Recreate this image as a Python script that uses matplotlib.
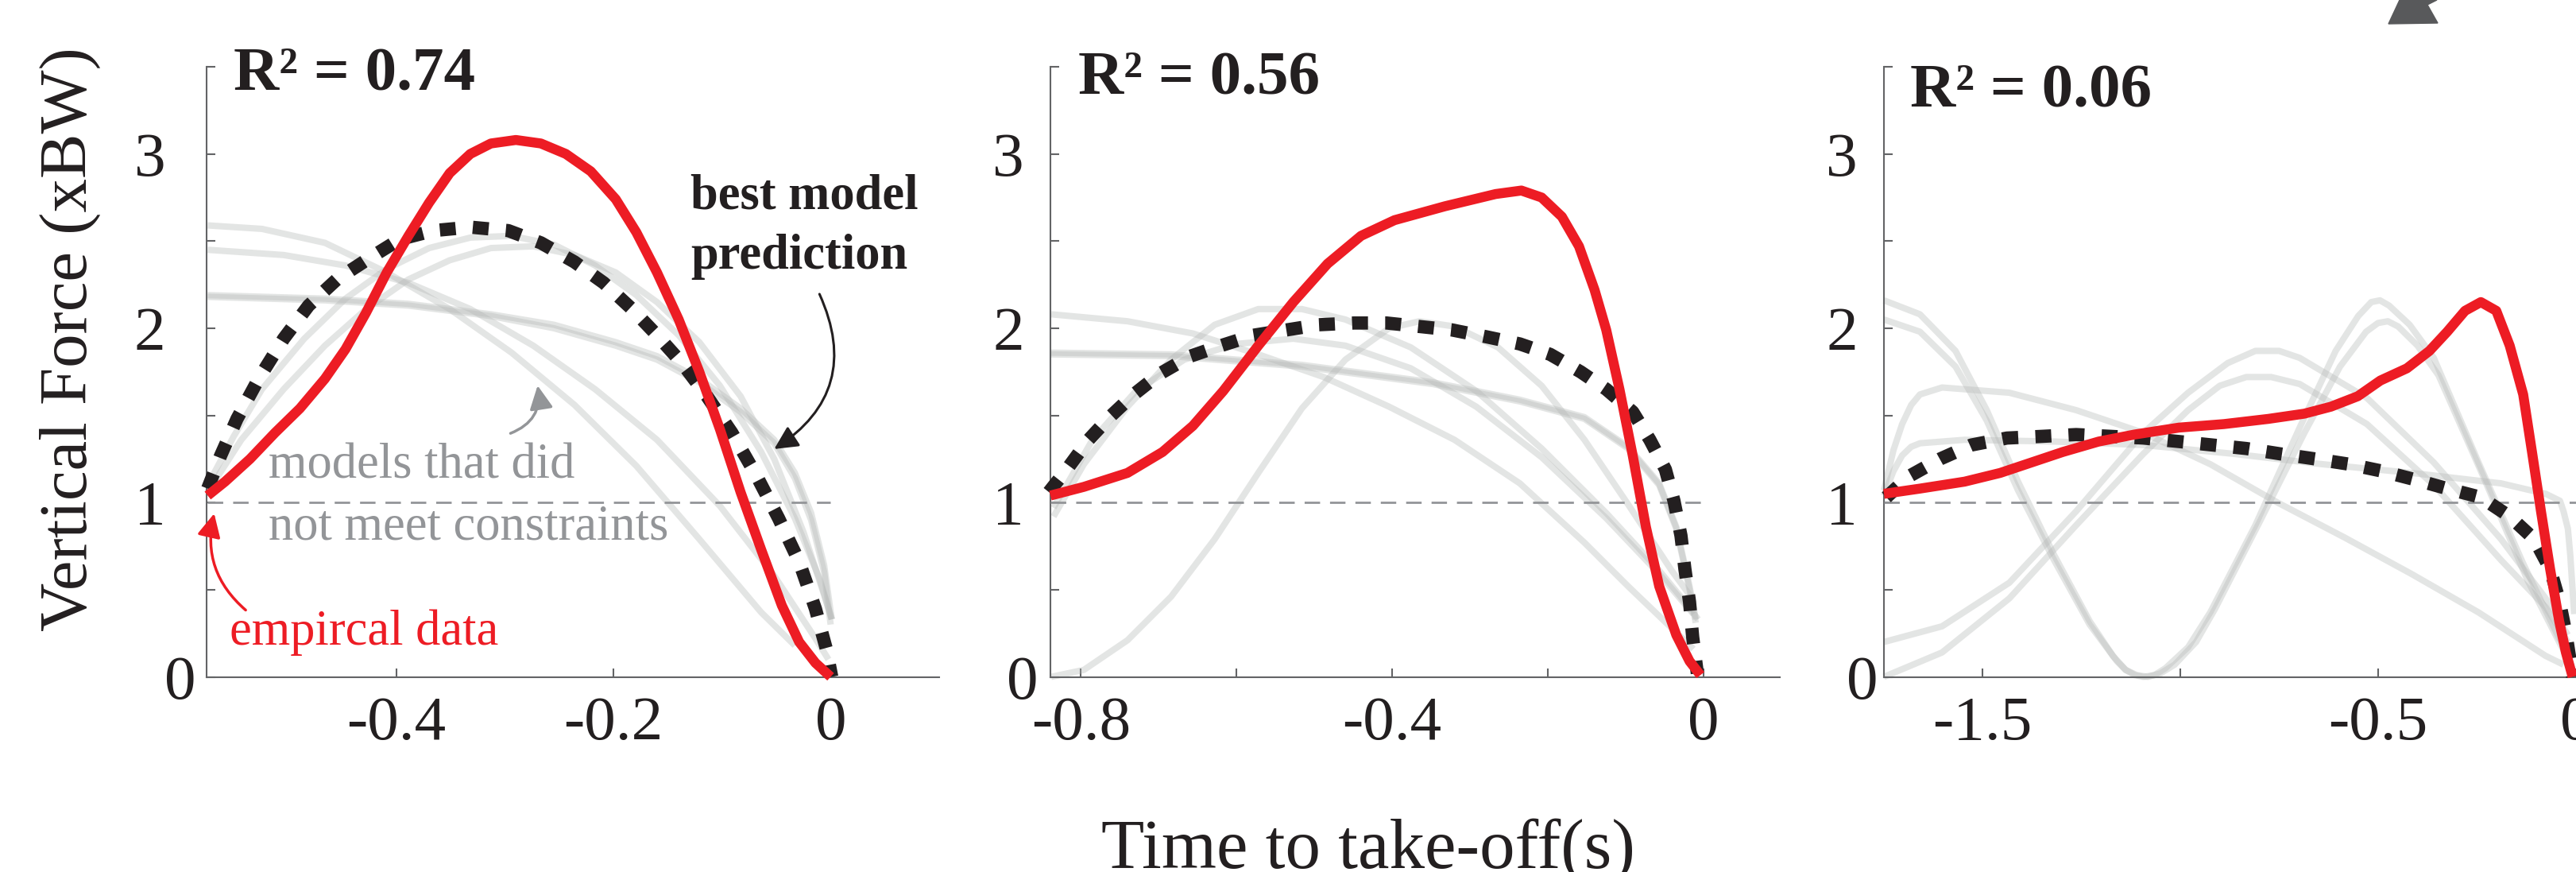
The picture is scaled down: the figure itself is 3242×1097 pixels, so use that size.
import matplotlib
matplotlib.use("Agg")
import matplotlib.pyplot as plt
from matplotlib.patches import Polygon
from matplotlib.transforms import ScaledTranslation

plt.rcParams['font.family'] = ['Liberation Serif', 'DejaVu Serif']

RED = '#ed1c24'
DARK = '#231f20'
GRAY_TXT = '#939598'
AXIS_C = '#636466'

# ---------------- panel 1 ----------------
p1_red_t = [-0.574, -0.558, -0.535, -0.512, -0.489, -0.466, -0.447, -0.428, -0.409, -0.389,
            -0.370, -0.351, -0.332, -0.313, -0.290, -0.267, -0.244, -0.221, -0.198, -0.179,
            -0.160, -0.140, -0.121, -0.102, -0.083, -0.064, -0.045, -0.029, -0.014, 0.0]
p1_red_f = [1.04, 1.12, 1.25, 1.40, 1.54, 1.71, 1.88, 2.09, 2.32, 2.53,
            2.72, 2.89, 3.00, 3.06, 3.08, 3.06, 3.00, 2.90, 2.74, 2.55,
            2.32, 2.05, 1.75, 1.42, 1.06, 0.73, 0.41, 0.20, 0.08, 0.0]
p1_best_t = [-0.574, -0.562, -0.547, -0.527, -0.504, -0.481, -0.455, -0.428, -0.397, -0.366,
             -0.332, -0.297, -0.267, -0.236, -0.209, -0.183, -0.160, -0.137, -0.114, -0.091,
             -0.068, -0.048, -0.029, -0.014, -0.004, 0.001]
p1_best_f = [1.08, 1.27, 1.48, 1.71, 1.94, 2.13, 2.28, 2.39, 2.51, 2.56,
             2.58, 2.56, 2.49, 2.38, 2.26, 2.11, 1.96, 1.80, 1.61, 1.40,
             1.15, 0.91, 0.66, 0.39, 0.16, 0.0]
p1_gray = [
    ([-0.574, -0.524, -0.466, -0.409, -0.351, -0.294, -0.236, -0.179, -0.121, -0.064, -0.033],
     [2.59, 2.57, 2.49, 2.32, 2.11, 1.86, 1.56, 1.21, 0.79, 0.37, 0.18]),
    ([-0.574, -0.504, -0.447, -0.389, -0.332, -0.274, -0.217, -0.160, -0.102, -0.052, -0.014, -0.002],
     [2.45, 2.42, 2.36, 2.26, 2.11, 1.90, 1.65, 1.36, 0.98, 0.58, 0.22, 0.10]),
    ([-0.574, -0.466, -0.389, -0.313, -0.255, -0.198, -0.160, -0.121, -0.083, -0.052, -0.033, -0.018, -0.006, 0.001],
     [2.19, 2.17, 2.14, 2.08, 2.02, 1.92, 1.84, 1.71, 1.54, 1.36, 1.17, 0.94, 0.64, 0.33]),
    ([-0.574, -0.466, -0.389, -0.313, -0.255, -0.198, -0.160, -0.121, -0.083, -0.052, -0.033, -0.018, -0.006, 0.0],
     [2.18, 2.16, 2.13, 2.07, 2.00, 1.90, 1.82, 1.69, 1.52, 1.34, 1.14, 0.90, 0.60, 0.30]),
    ([-0.574, -0.550, -0.524, -0.485, -0.447, -0.409, -0.370, -0.332, -0.294, -0.255, -0.217, -0.179,
      -0.140, -0.102, -0.064, -0.033, -0.010, 0.001],
     [1.10, 1.38, 1.65, 1.94, 2.17, 2.34, 2.46, 2.52, 2.53, 2.48, 2.36, 2.19,
      1.96, 1.67, 1.29, 0.91, 0.56, 0.33]),
    ([-0.574, -0.543, -0.504, -0.466, -0.428, -0.389, -0.351, -0.313, -0.274, -0.236, -0.198, -0.160,
      -0.121, -0.083, -0.052, -0.025, -0.006, 0.001],
     [1.06, 1.36, 1.65, 1.90, 2.11, 2.28, 2.39, 2.46, 2.47, 2.42, 2.32, 2.15,
      1.92, 1.61, 1.25, 0.83, 0.47, 0.33]),
]

# ---------------- panel 2 ----------------
p2_red_t = [-0.839, -0.796, -0.740, -0.695, -0.656, -0.617, -0.572, -0.527, -0.483, -0.440,
            -0.397, -0.332, -0.267, -0.234, -0.208, -0.182, -0.160, -0.140, -0.125, -0.108,
            -0.091, -0.074, -0.057, -0.035, -0.018, -0.004]
p2_red_f = [1.04, 1.09, 1.17, 1.29, 1.44, 1.64, 1.90, 2.15, 2.37, 2.53,
            2.62, 2.70, 2.77, 2.79, 2.75, 2.64, 2.47, 2.22, 1.99, 1.65,
            1.27, 0.86, 0.52, 0.24, 0.09, 0.01]
p2_best_t = [-0.841, -0.818, -0.790, -0.763, -0.732, -0.698, -0.659, -0.620, -0.578, -0.536,
             -0.494, -0.449, -0.407, -0.365, -0.323, -0.278, -0.236, -0.197, -0.158, -0.125,
             -0.091, -0.069, -0.049, -0.038, -0.029, -0.024, -0.018, -0.014, -0.008]
p2_best_f = [1.06, 1.19, 1.36, 1.49, 1.62, 1.74, 1.84, 1.90, 1.96, 1.99,
             2.02, 2.03, 2.03, 2.01, 1.99, 1.95, 1.91, 1.85, 1.75, 1.65,
             1.52, 1.36, 1.19, 1.01, 0.81, 0.62, 0.43, 0.23, 0.02]
p2_gray = [
    ([-0.838, -0.740, -0.656, -0.572, -0.488, -0.404, -0.320, -0.236, -0.153, -0.097, -0.041, -0.013],
     [2.08, 2.04, 1.97, 1.85, 1.72, 1.55, 1.36, 1.11, 0.77, 0.52, 0.28, 0.16]),
    ([-0.838, -0.684, -0.516, -0.348, -0.236, -0.153, -0.097, -0.057, -0.035, -0.018, -0.010],
     [1.86, 1.85, 1.79, 1.69, 1.59, 1.49, 1.32, 1.11, 0.86, 0.52, 0.33]),
    ([-0.838, -0.684, -0.516, -0.348, -0.236, -0.153, -0.097, -0.057, -0.035, -0.018, -0.010],
     [1.85, 1.84, 1.78, 1.68, 1.58, 1.48, 1.31, 1.10, 0.85, 0.50, 0.31]),
    ([-0.835, -0.796, -0.740, -0.684, -0.628, -0.572, -0.516, -0.460, -0.376, -0.292, -0.208, -0.125,
      -0.057, -0.024, -0.007],
     [0.92, 1.22, 1.55, 1.82, 2.02, 2.11, 2.11, 2.05, 1.89, 1.64, 1.31, 0.94,
      0.61, 0.43, 0.33]),
    ([-0.835, -0.785, -0.729, -0.667, -0.600, -0.527, -0.460, -0.376, -0.292, -0.208, -0.125, -0.057, -0.013],
     [0.97, 1.36, 1.64, 1.82, 1.91, 1.94, 1.90, 1.77, 1.55, 1.26, 0.91, 0.59, 0.36]),
    ([-0.838, -0.796, -0.740, -0.684, -0.628, -0.572, -0.516, -0.460, -0.404, -0.365, -0.320, -0.264,
      -0.208, -0.153, -0.097, -0.041, -0.013],
     [0.0, 0.04, 0.21, 0.46, 0.79, 1.17, 1.54, 1.82, 2.00, 2.04, 2.01, 1.89,
      1.67, 1.36, 0.99, 0.61, 0.44]),
]

# ---------------- panel 3 ----------------
p3_red_t = [-1.749, -1.658, -1.545, -1.455, -1.376, -1.297, -1.206, -1.116, -1.003, -0.890,
            -0.777, -0.686, -0.619, -0.551, -0.494, -0.427, -0.370, -0.325, -0.280, -0.240,
            -0.201, -0.167, -0.133, -0.110, -0.088, -0.065, -0.042, -0.025, -0.008]
p3_red_f = [1.05, 1.08, 1.12, 1.17, 1.23, 1.29, 1.35, 1.39, 1.43, 1.45,
            1.48, 1.51, 1.55, 1.61, 1.70, 1.77, 1.87, 1.98, 2.10, 2.15,
            2.10, 1.90, 1.62, 1.28, 0.95, 0.62, 0.32, 0.14, 0.0]
p3_best_t = [-1.743, -1.686, -1.607, -1.528, -1.438, -1.347, -1.263, -1.178, -1.093, -1.003,
             -0.918, -0.833, -0.749, -0.658, -0.573, -0.489, -0.404, -0.325, -0.240, -0.167,
             -0.105, -0.065, -0.042, -0.025, -0.008]
p3_best_f = [1.03, 1.15, 1.25, 1.33, 1.37, 1.38, 1.39, 1.38, 1.37, 1.35,
             1.33, 1.31, 1.28, 1.25, 1.22, 1.18, 1.13, 1.08, 1.03, 0.92,
             0.79, 0.62, 0.44, 0.25, 0.0]
p3_gray = [
    ([-1.749, -1.658, -1.568, -1.489, -1.410, -1.319, -1.229, -1.170, -1.138, -1.115, -1.093, -1.065,
      -1.037, -0.980, -0.924, -0.810, -0.698, -0.607, -0.550, -0.517, -0.495, -0.472, -0.420,
      -0.359, -0.246, -0.133, -0.042, -0.010],
     [2.16, 2.08, 1.87, 1.53, 1.12, 0.70, 0.32, 0.12, 0.04, 0.01, 0.0, 0.01,
      0.05, 0.17, 0.37, 0.87, 1.43, 1.87, 2.07, 2.15, 2.16, 2.13, 2.02,
      1.83, 1.23, 0.65, 0.22, 0.12]),
    ([-1.749, -1.658, -1.568, -1.489, -1.410, -1.319, -1.229, -1.160, -1.138, -1.110, -1.082, -1.050,
      -1.014, -0.960, -0.912, -0.799, -0.686, -0.596, -0.530, -0.500, -0.475, -0.449, -0.400,
      -0.347, -0.234, -0.121, -0.042, -0.010],
     [2.05, 1.98, 1.78, 1.47, 1.07, 0.67, 0.30, 0.09, 0.04, 0.01, 0.0, 0.02,
      0.07, 0.20, 0.39, 0.89, 1.40, 1.78, 1.98, 2.03, 2.04, 2.01, 1.90,
      1.73, 1.15, 0.55, 0.20, 0.06]),
    ([-1.749, -1.725, -1.703, -1.680, -1.658, -1.602, -1.432, -1.263, -1.093, -0.924, -0.754, -0.585,
      -0.415, -0.246, -0.076, -0.031],
     [1.07, 1.30, 1.45, 1.56, 1.62, 1.66, 1.63, 1.53, 1.40, 1.22, 1.00, 0.80,
      0.59, 0.37, 0.12, 0.07]),
    ([-1.749, -1.725, -1.703, -1.680, -1.658, -1.545, -1.319, -1.093, -0.867, -0.641, -0.415, -0.189,
      -0.076, -0.040, -0.031, -0.020, -0.014, -0.004],
     [1.04, 1.18, 1.27, 1.32, 1.34, 1.36, 1.35, 1.33, 1.28, 1.22, 1.17, 1.11,
      1.05, 1.01, 0.95, 0.85, 0.70, 0.36]),
    ([-1.749, -1.602, -1.432, -1.263, -1.093, -0.980, -0.880, -0.810, -0.750, -0.698, -0.528, -0.359,
      -0.189, -0.076, -0.020],
     [0.20, 0.29, 0.54, 0.95, 1.40, 1.63, 1.80, 1.87, 1.87, 1.83, 1.60, 1.23,
      0.79, 0.45, 0.24]),
    ([-1.749, -1.602, -1.432, -1.263, -1.093, -0.980, -0.900, -0.833, -0.770, -0.698, -0.528, -0.359,
      -0.189, -0.076, -0.020],
     [0.0, 0.14, 0.45, 0.87, 1.28, 1.53, 1.67, 1.72, 1.72, 1.68, 1.45, 1.10,
      0.67, 0.40, 0.20]),
]

r2_labels = ['R\u00b2 = 0.74', 'R\u00b2 = 0.56', 'R\u00b2 = 0.06']
xtick_major = [[-0.4, -0.2, 0], [-0.8, -0.4, 0], [-1.5, -0.5, 0]]
xtick_labels = [['-0.4', '-0.2', '0'], ['-0.8', '-0.4', '0'], ['-1.5', '-0.5', '0']]
xtick_minor = [[], [-0.6, -0.2], [-1.0]]
ytick_major = [0, 1, 2, 3]
ytick_labels = ['0', '1', '2', '3']
ytick_minor = [0.5, 1.5, 2.5, 3.5]

panels = [
    (p1_red_t, p1_red_f, p1_best_t, p1_best_f, p1_gray),
    (p2_red_t, p2_red_f, p2_best_t, p2_best_f, p2_gray),
    (p3_red_t, p3_red_f, p3_best_t, p3_best_f, p3_gray),
]

W, H = 3242, 1097
fig = plt.figure(figsize=(W / 100, H / 100), dpi=100)

# axes boxes in pixels: left, right, plus x-limits
boxes = [(260, 1182, (-0.575, 0.100)),
         (1322, 2240, (-0.839, 0.098)),
         (2371, 3295, (-1.749, 0.107))]
bottom_px, top_px = 851.5, 84
r2_pos = [(0.037, 0.9635), (0.038, 0.956), (0.036, 0.935)]
ypad = [37, 24, 24]
zero_shift = [38, 18, 26]  # px shift of the "0" y label

axes = []
for i, (red_t, red_f, best_t, best_f, grays) in enumerate(panels):
    lpx, rpx, xl = boxes[i]
    ax = fig.add_axes([lpx / W, 1 - bottom_px / H, (rpx - lpx) / W, (bottom_px - top_px) / H])
    axes.append(ax)
    for gt, gf in grays:
        ax.plot(gt, gf, color='#b4b8b6', alpha=0.36, lw=5.8, solid_capstyle='butt',
                solid_joinstyle='round', clip_on=False, zorder=2)
    ax.plot([red_t[0], 0], [1, 1], color=GRAY_TXT, lw=2, linestyle=(0, (7, 4.5)), zorder=3)
    ax.plot(best_t, best_f, color=DARK, lw=12, linestyle=(0, (1.2, 1.3)), clip_on=False, zorder=4)
    ax.plot(red_t, red_f, color=RED, lw=9, solid_capstyle='butt', solid_joinstyle='round',
            clip_on=False, zorder=5)

    ax.set_xlim(*xl)
    ax.set_ylim(0, 3.5)
    for s in ['top', 'right']:
        ax.spines[s].set_visible(False)
    for s in ['left', 'bottom']:
        ax.spines[s].set_color(AXIS_C)
        ax.spines[s].set_linewidth(1.5)
    ax.set_xticks(xtick_major[i])
    ax.set_xticklabels(xtick_labels[i])
    ax.set_xticks(xtick_minor[i], minor=True)
    ax.set_yticks(ytick_major)
    ax.set_yticklabels(ytick_labels)
    ax.set_yticks(ytick_minor, minor=True)
    ax.tick_params(which='both', direction='in', color=AXIS_C, width=1.5, length=8,
                   labelsize=57, labelcolor=DARK)
    ax.tick_params(axis='x', which='both', pad=17)
    ax.tick_params(axis='y', which='both', pad=ypad[i])
    lab0 = ax.get_yticklabels()[0]
    lab0.set_transform(lab0.get_transform() + ScaledTranslation(zero_shift[i] / 100, 0, fig.dpi_scale_trans))

    ax.text(r2_pos[i][0], r2_pos[i][1], r2_labels[i], transform=ax.transAxes, fontsize=57,
            fontweight='bold', color=DARK, ha='left', va='baseline')

ax1 = axes[0]
# annotations in panel 1
ax1.text(-0.129, 2.686, 'best model', fontsize=45, fontweight='bold', color=DARK, va='baseline')
ax1.text(-0.129, 2.342, 'prediction', fontsize=45, fontweight='bold', color=DARK, va='baseline')
ax1.text(-0.518, 1.138, 'models that did', fontsize=45, color=GRAY_TXT, va='baseline')
ax1.text(-0.518, 0.791, 'not meet constraints', fontsize=45, color=GRAY_TXT, va='baseline')
ax1.text(-0.554, 0.185, 'empircal data', fontsize=45, color=RED, va='baseline')

ax1.annotate('', xy=(-0.052, 1.307), xytext=(-0.0103, 2.196),
             arrowprops=dict(arrowstyle='-|>', color=DARK, lw=2.2, mutation_scale=45,
                             connectionstyle='arc3,rad=-0.43', shrinkA=0, shrinkB=0))
ax1.annotate('', xy=(-0.270, 1.671), xytext=(-0.295, 1.397),
             arrowprops=dict(arrowstyle='-|>', color=GRAY_TXT, lw=2.5, mutation_scale=45,
                             connectionstyle='arc3,rad=0.4', shrinkA=0, shrinkB=0))
ax1.annotate('', xy=(-0.568, 0.937), xytext=(-0.539, 0.383),
             arrowprops=dict(arrowstyle='-|>', color=RED, lw=2.5, mutation_scale=45,
                             connectionstyle='arc3,rad=-0.3', shrinkA=0, shrinkB=0))

fig.text(88 / W, 1 - 427 / H, 'Vertical Force (xBW)', rotation=90, fontsize=61,
         color=DARK, ha='center', va='center')
fig.text(1722 / W, 5 / H, 'Time to take-off(s)', fontsize=64, color=DARK,
         ha='center', va='baseline')

# clipped arrowhead from a neighbouring panel at the top edge
tri = [(3006, 30), (3020, 0), (3067, 0), (3055, 6), (3068, 29)]
fig.patches.append(Polygon([(x / W, 1 - y / H) for x, y in tri], closed=True,
                           transform=fig.transFigure, color='#58595b', zorder=10))

fig.savefig('out.png', dpi=100)
